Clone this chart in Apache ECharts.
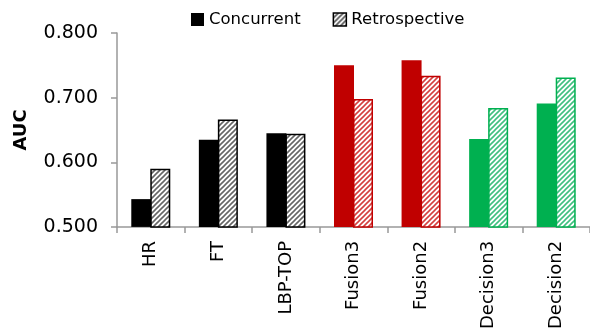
<!DOCTYPE html>
<html><head><meta charset="utf-8">
<script src="https://cdn.jsdelivr.net/npm/echarts@6/dist/echarts.min.js"></script>
<style>html,body{margin:0;padding:0;background:#fff}#c{width:590px;height:332px}</style>
</head><body><div id="c"></div>
<script>
const categories = ['HR','FT','LBP-TOP','Fusion3','Fusion2','Decision3','Decision2'];
const concurrent = [0.543,0.635,0.645,0.750,0.758,0.636,0.691];
const retrospective = [0.590,0.666,0.644,0.698,0.734,0.684,0.731];
const barColors = ['#000000','#000000','#000000','#C00000','#C00000','#00B050','#00B050'];
const stripeColors = ['#666666','#666666','#666666','#D44040','#D44040','#40C080','#40C080'];

function makePattern(color){
  const s=5, c=document.createElement('canvas'); c.width=s; c.height=s;
  const g=c.getContext('2d'); g.fillStyle='#fff'; g.fillRect(0,0,s,s);
  g.strokeStyle=color; g.lineWidth=1.6;
  g.beginPath();
  g.moveTo(0,s); g.lineTo(s,0);
  g.moveTo(-1,1); g.lineTo(1,-1);
  g.moveTo(s-1,s+1); g.lineTo(s+1,s-1);
  g.stroke();
  return {image:c, repeat:'repeat'};
}
const font='DejaVu Sans';
const chart=echarts.init(document.getElementById('c'),null,{renderer:'canvas'});
chart.setOption({
  animation:false,
  textStyle:{fontFamily:font,color:'#000'},
  legend:{
    top:6,left:186,itemGap:32,itemWidth:13,itemHeight:13,
    textStyle:{fontSize:16.5,fontFamily:font,color:'#000'},
    data:[
      {name:'Concurrent',icon:'rect',itemStyle:{color:'#000'}},
      {name:'Retrospective',icon:'rect',itemStyle:{color:makePattern('#555'),borderColor:'#000',borderWidth:1.5}}
    ]
  },
  grid:{left:117,right:0,top:33,bottom:104},
  xAxis:{
    type:'category',data:categories,
    axisLine:{lineStyle:{color:'#999',width:1.5}},
    axisTick:{show:true,length:6,lineStyle:{color:'#999',width:1.5}},
    axisLabel:{rotate:90,fontSize:18,color:'#000',margin:14,fontFamily:font}
  },
  yAxis:{
    type:'value',min:0.5,max:0.8,interval:0.1,
    name:'AUC',nameLocation:'middle',nameGap:87,
    nameTextStyle:{fontSize:18,fontWeight:'bold',color:'#000',fontFamily:font},
    axisLine:{show:true,lineStyle:{color:'#999',width:1.5}},
    axisTick:{show:true,length:6,lineStyle:{color:'#999',width:1.5}},
    splitLine:{show:false},
    axisLabel:{fontSize:19,color:'#000',margin:19,fontFamily:font,formatter:v=>v.toFixed(3)}
  },
  series:[
    {name:'Concurrent',type:'bar',barWidth:20,barGap:'-5%',
     itemStyle:{color:'#000'},
     data:concurrent.map((v,i)=>({value:v,itemStyle:{color:barColors[i]}}))},
    {name:'Retrospective',type:'bar',barWidth:20,barGap:'-5%',
     itemStyle:{color:makePattern('#555'),borderColor:'#000',borderWidth:1.5},
     data:retrospective.map((v,i)=>({value:v,itemStyle:{color:makePattern(stripeColors[i]),borderColor:barColors[i],borderWidth:1.5}}))}
  ]
});
</script></body></html>
